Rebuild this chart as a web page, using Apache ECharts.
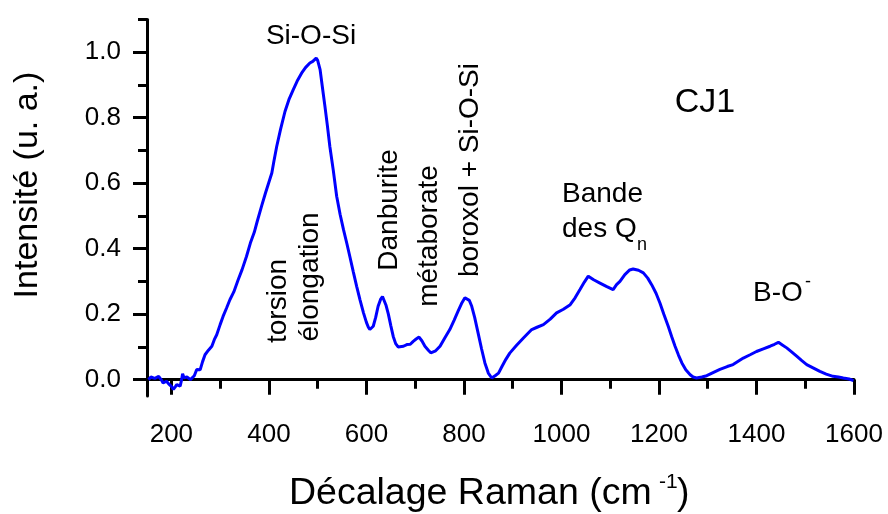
<!DOCTYPE html>
<html>
<head>
<meta charset="utf-8">
<script src="https://cdn.jsdelivr.net/npm/echarts@6/dist/echarts.min.js"></script>
<style>
  html, body { margin: 0; padding: 0; background: #fff; }
  #chart { width: 888px; height: 514px; }
</style>
</head>
<body>
<div id="chart"></div>
<script>
// Raman spectrum of glass CJ1: shift (cm-1) and normalised intensity
const ramanShift = [
  153, 158, 162, 166, 170, 174, 177, 180, 183, 187, 190, 194, 197, 201, 204, 208, 211, 215, 218, 221,
  223, 226, 228, 232, 235, 239, 242, 247, 252, 256, 259, 264, 269, 276, 283, 288, 293, 300, 306, 313,
  320, 328, 337, 345, 354, 362, 370, 376, 385, 393, 400, 406, 410, 416, 424, 433, 441, 450, 458, 467,
  475, 484, 490, 494, 497, 500, 505, 510, 515, 520, 525, 532, 539, 546, 553, 560, 566, 573, 580, 587,
  594, 600, 604, 607, 611, 614, 619, 624, 629, 633, 636, 640, 645, 650, 655, 660, 665, 669, 676, 683,
  690, 696, 702, 708, 714, 720, 727, 732, 736, 742, 751, 761, 771, 780, 788, 796, 802, 806, 811, 816,
  822, 829, 836, 843, 850, 857, 864, 871, 878, 886, 894, 908, 922, 939, 950, 963, 977, 990, 1004, 1018,
  1028, 1038, 1047, 1055, 1066, 1079, 1092, 1106, 1113, 1120, 1130, 1140, 1147, 1158, 1168, 1177, 1185, 1194, 1202, 1210,
  1219, 1226, 1233, 1240, 1247, 1255, 1264, 1270, 1277, 1288, 1298, 1312, 1325, 1340, 1352, 1373, 1387, 1400, 1414, 1428,
  1437, 1445, 1453, 1462, 1472, 1483, 1493, 1503, 1516, 1530, 1543, 1557, 1568, 1578, 1590, 1599
];
const intensity = [
  0.000, 0.008, 0.013, 0.004, 0.002, 0.010, 0.007, -0.002, -0.010, -0.004, -0.005, -0.012, -0.015, -0.022, -0.030, -0.022, -0.015, -0.012, -0.020, 0.000,
  0.018, 0.006, 0.000, 0.008, 0.005, 0.000, 0.002, 0.012, 0.031, 0.036, 0.030, 0.055, 0.076, 0.090, 0.102, 0.122, 0.137, 0.168, 0.193, 0.218,
  0.244, 0.268, 0.305, 0.336, 0.376, 0.417, 0.450, 0.483, 0.530, 0.570, 0.603, 0.631, 0.665, 0.712, 0.765, 0.819, 0.855, 0.886, 0.912, 0.936,
  0.953, 0.967, 0.972, 0.976, 0.982, 0.975, 0.947, 0.890, 0.834, 0.775, 0.712, 0.640, 0.560, 0.505, 0.458, 0.415, 0.376, 0.330, 0.285, 0.243,
  0.204, 0.175, 0.160, 0.153, 0.155, 0.163, 0.190, 0.224, 0.245, 0.254, 0.250, 0.228, 0.200, 0.165, 0.132, 0.110, 0.100, 0.097, 0.102, 0.107,
  0.108, 0.117, 0.124, 0.130, 0.118, 0.102, 0.090, 0.082, 0.079, 0.088, 0.102, 0.128, 0.153, 0.182, 0.209, 0.235, 0.250, 0.252, 0.242, 0.224,
  0.190, 0.143, 0.095, 0.051, 0.020, 0.005, 0.012, 0.020, 0.040, 0.062, 0.081, 0.105, 0.127, 0.153, 0.160, 0.168, 0.185, 0.204, 0.215, 0.229,
  0.250, 0.275, 0.298, 0.316, 0.305, 0.295, 0.285, 0.275, 0.290, 0.300, 0.321, 0.335, 0.338, 0.334, 0.326, 0.310, 0.290, 0.264, 0.234, 0.200,
  0.163, 0.132, 0.102, 0.075, 0.051, 0.030, 0.015, 0.008, 0.005, 0.008, 0.012, 0.022, 0.031, 0.040, 0.046, 0.066, 0.076, 0.086, 0.094, 0.102,
  0.108, 0.114, 0.106, 0.097, 0.085, 0.071, 0.058, 0.046, 0.036, 0.025, 0.017, 0.010, 0.008, 0.005, 0.002, -0.003
];

// Axis ticks
const xMajorTicks = [200, 400, 600, 800, 1000, 1200, 1400, 1600];
const xMinorTicks = [300, 500, 700, 900, 1100, 1300, 1500];
const yMajorTicks = [0, 0.2, 0.4, 0.6, 0.8, 1.0];
const yMinorTicks = [0.1, 0.3, 0.5, 0.7, 0.9, 1.1];

const FONT = 'Arial, "Liberation Sans", sans-serif';
const INK = '#000';

const chart = echarts.init(document.getElementById('chart'), null, { renderer: 'canvas' });

const baseX = {
  type: 'value', min: 150, max: 1600, position: 'bottom',
  splitLine: { show: false }
};
const baseY = {
  type: 'value', min: -0.05, max: 1.1, position: 'left',
  splitLine: { show: false }
};

// Vertical annotation helper (text reads bottom to top)
function vtext(txt, x, y) {
  return {
    type: 'text', x: x, y: y, rotation: Math.PI / 2,
    style: { text: txt, font: '28px ' + FONT, fill: INK, align: 'center', verticalAlign: 'middle' }
  };
}
function htext(txt, x, y, size, align) {
  return {
    type: 'text', x: x, y: y,
    style: { text: txt, font: (size || 28) + 'px ' + FONT, fill: INK, align: align || 'left', verticalAlign: 'middle' }
  };
}

chart.setOption({
  animation: false,
  backgroundColor: '#fff',
  grid: { left: 147, right: 34, top: 19.5, bottom: 118, containLabel: false },
  xAxis: [
    Object.assign({}, baseX, {
      axisLine: { show: true, lineStyle: { color: INK, width: 3 } },
      axisTick: { show: true, inside: false, length: 15, lineStyle: { color: INK, width: 3 }, customValues: xMajorTicks },
      axisLabel: {
        show: true, margin: 26, fontSize: 26, fontFamily: FONT, color: INK, customValues: xMajorTicks,
        formatter: v => String(v)
      }
    }),
    Object.assign({}, baseX, {
      axisLine: { show: false },
      axisTick: { show: true, inside: false, length: 9, lineStyle: { color: INK, width: 3 }, customValues: xMinorTicks },
      axisLabel: { show: false }
    })
  ],
  yAxis: [
    Object.assign({}, baseY, {
      axisLine: { show: true, lineStyle: { color: INK, width: 3 } },
      axisTick: { show: true, inside: false, length: 14, lineStyle: { color: INK, width: 3 }, customValues: yMajorTicks },
      axisLabel: {
        show: true, margin: 26, fontSize: 26, fontFamily: FONT, color: INK, customValues: yMajorTicks,
        formatter: v => v.toFixed(1)
      }
    }),
    Object.assign({}, baseY, {
      axisLine: { show: false },
      axisTick: { show: true, inside: false, length: 9, lineStyle: { color: INK, width: 3 }, customValues: yMinorTicks },
      axisLabel: { show: false }
    })
  ],
  series: [{
    type: 'line',
    xAxisIndex: 0, yAxisIndex: 0,
    data: ramanShift.map((x, i) => [x, intensity[i]]),
    showSymbol: false,
    smooth: false,
    lineStyle: { color: '#0000ff', width: 3 },
    silent: true
  }],
  graphic: [
    // axis titles
    {
      type: 'text', x: 28, y: 185, rotation: Math.PI / 2,
      style: { text: 'Intensité (u. a.)', font: '34px ' + FONT, fill: INK, align: 'center', verticalAlign: 'middle' }
    },
    htext('Décalage Raman (cm', 289, 494, 37.5, 'left'),
    htext('-1', 659, 482, 21, 'left'),
    htext(')', 677, 494, 37.5, 'left'),
    // band assignments
    htext('Si-O-Si', 311, 36, 28, 'center'),
    htext('CJ1', 705, 103, 34, 'center'),
    vtext('torsion', 278, 301),
    vtext('élongation', 310, 277),
    vtext('Danburite', 389, 210),
    vtext('métaborate', 429, 236),
    vtext('boroxol + Si-O-Si', 470, 170),
    htext('Bande', 562, 194, 28, 'left'),
    htext('des Q', 562, 229, 28, 'left'),
    htext('n', 637, 245, 18, 'left'),
    htext('B-O', 753, 293, 28, 'left'),
    htext('-', 805, 282, 18, 'left')
  ]
});
</script>
</body>
</html>
